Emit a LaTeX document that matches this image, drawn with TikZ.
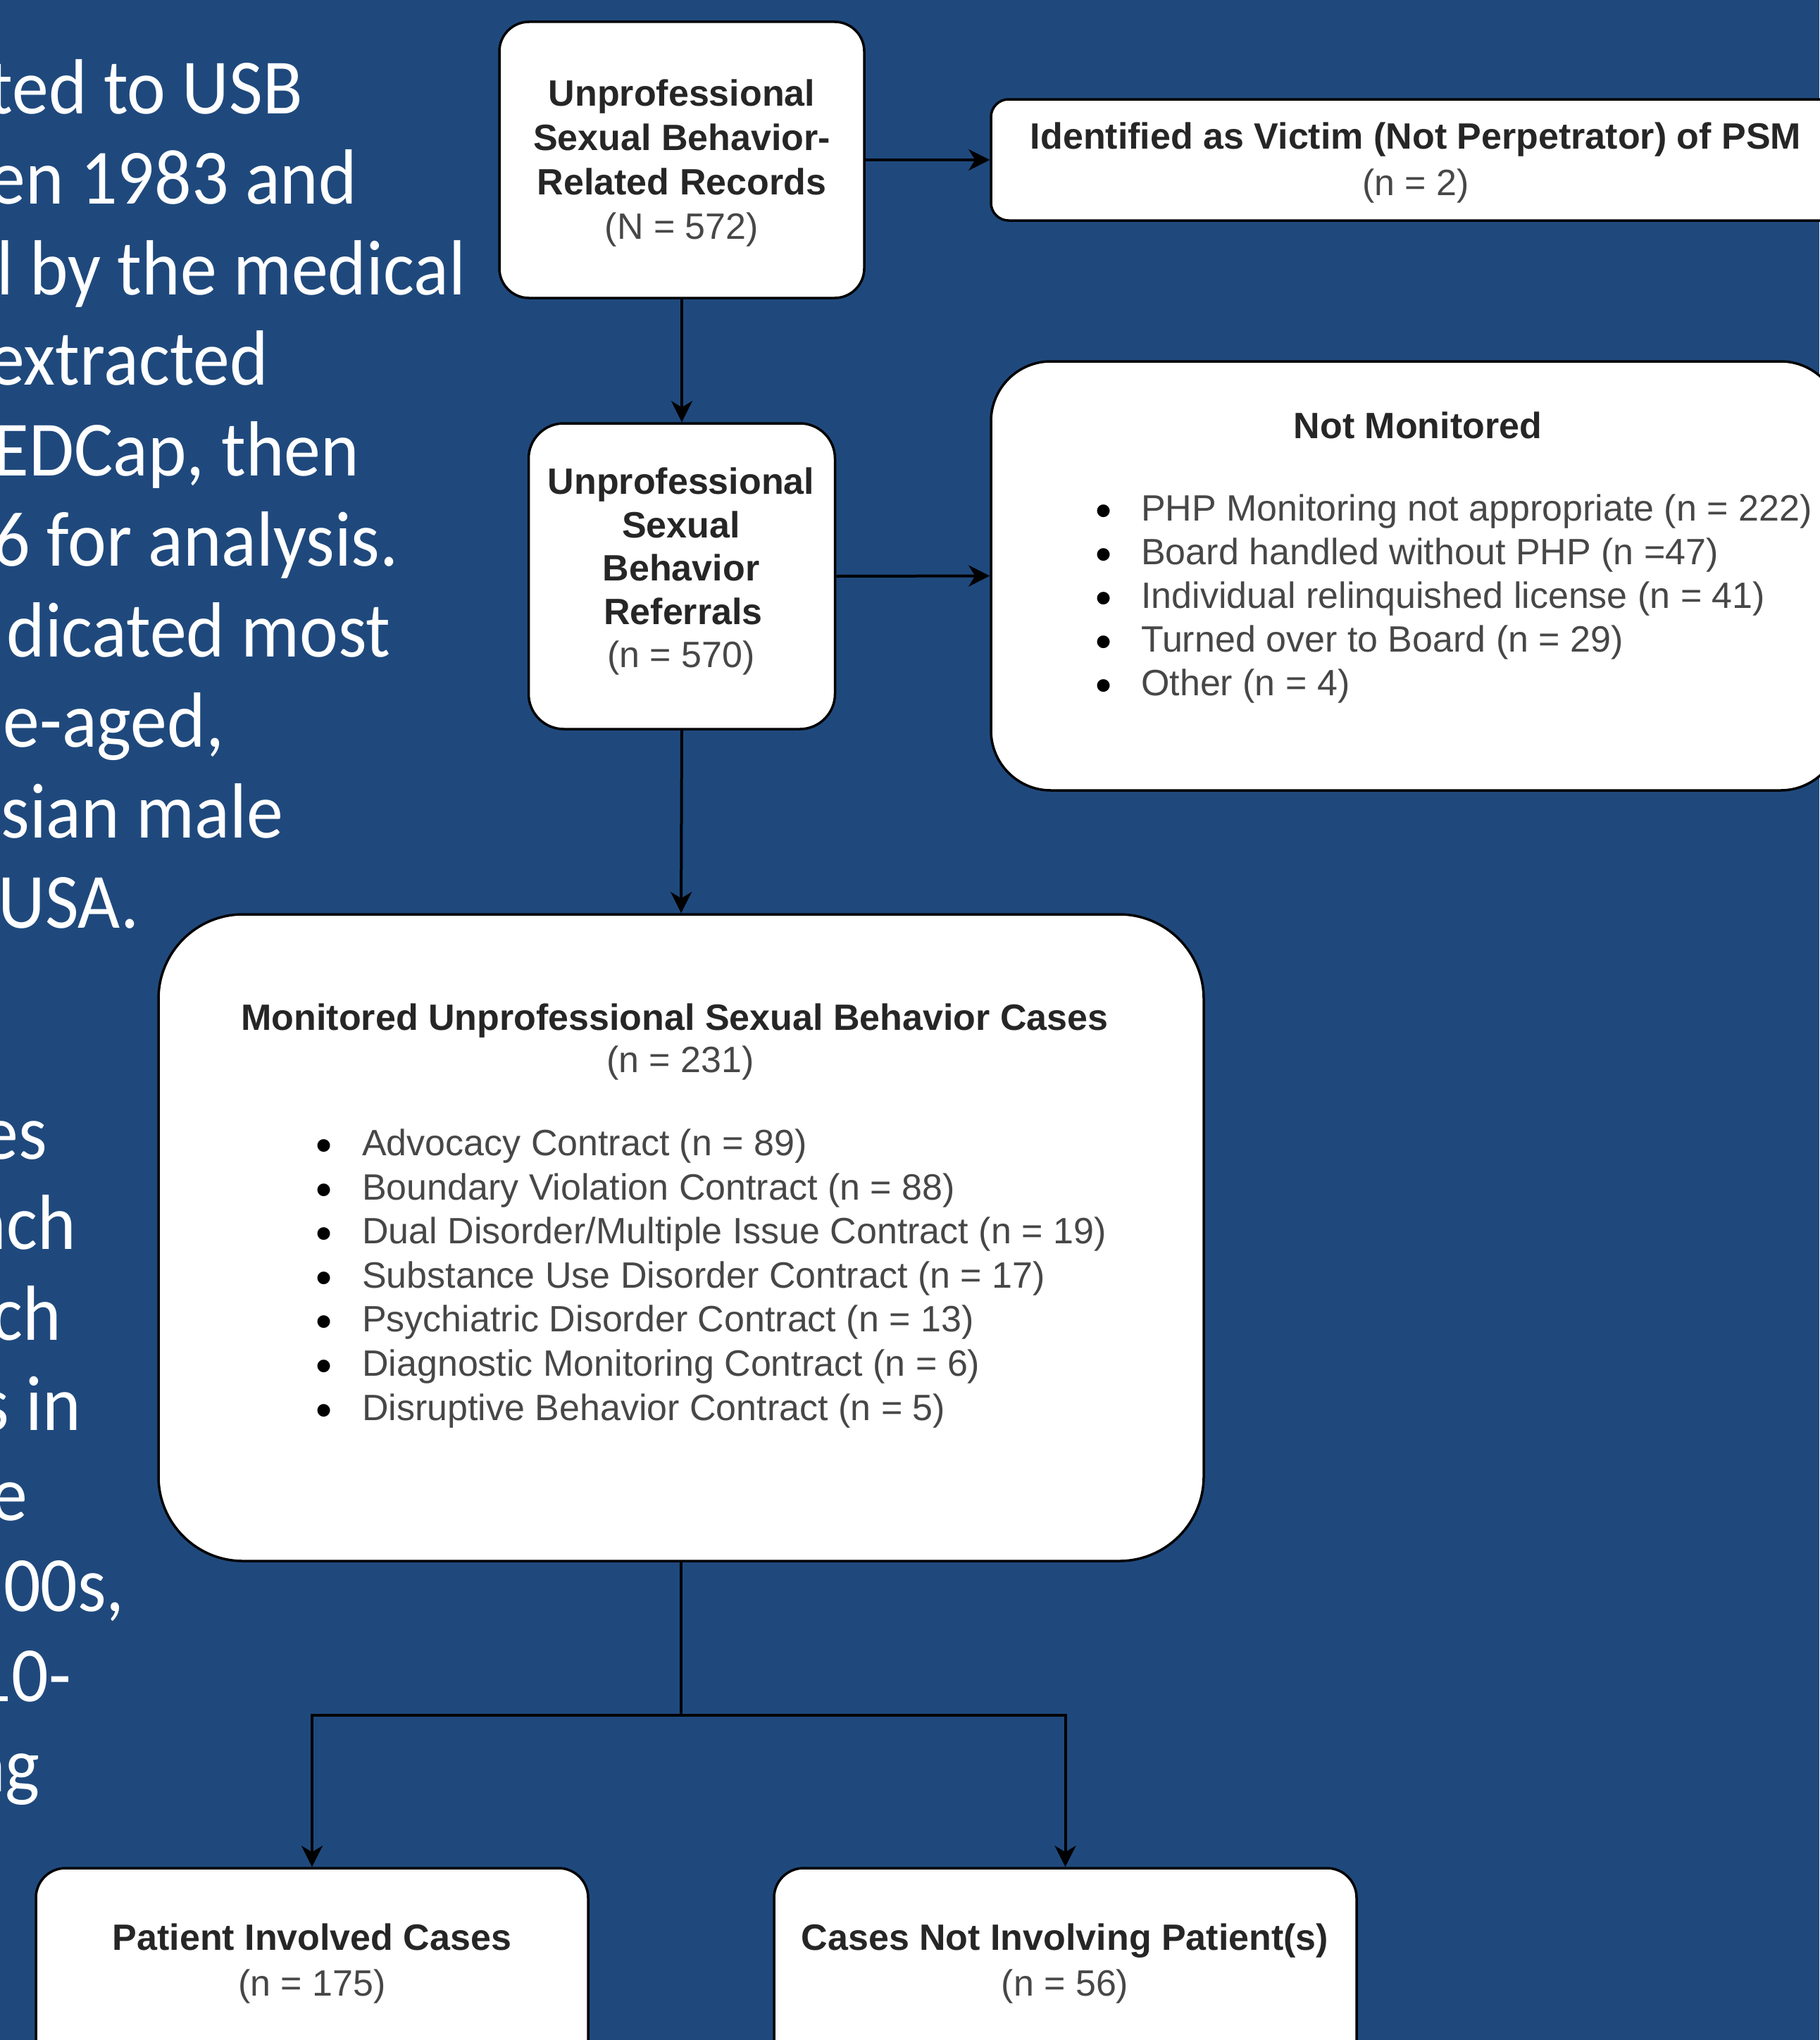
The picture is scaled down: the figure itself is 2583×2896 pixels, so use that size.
\documentclass[tikz,border=0pt]{standalone}
\usepackage{graphicx}
\usepackage{fontspec}
\setmainfont{Liberation Sans}
\newfontfamily\carl{Carlito}
\usetikzlibrary{arrows.meta}
\definecolor{bgblue}{HTML}{1F497D}
\definecolor{titlegray}{HTML}{262626}
\definecolor{bodygray}{HTML}{474747}
\newcommand{\sqz}[1]{\scalebox{0.935}[1]{#1}}
\begin{document}
\begin{tikzpicture}[x=1pt,y=-1pt,
  box/.style={draw=black, line width=3.5pt, fill=white, inner sep=0pt},
  conn/.style={draw=black, line width=4pt},
  arr/.style={conn, -{Stealth[length=30pt,width=30pt,inset=9pt]}},
  titletxt/.style={anchor=base, inner sep=0pt, text=titlegray, font=\fontsize{52}{62}\selectfont\bfseries},
  bodytxt/.style={anchor=base, inner sep=0pt, text=bodygray, font=\fontsize{52}{62}\selectfont},
  itemtxt/.style={anchor=base west, inner sep=0pt, text=bodygray, font=\fontsize{52}{62}\selectfont},
  bultxt/.style={anchor=base west, inner sep=0pt, text=black, font=\fontsize{66}{66}\selectfont},
  lefttxt/.style={anchor=base east, inner sep=0pt, text=white, font=\carl\fontsize{111}{128}\selectfont}
]
\useasboundingbox (0,0) rectangle (2583,2896);
\fill[bgblue] (0,0) rectangle (2583,2896);

% left text (cut at the left edge)
\node[lefttxt] (l1) at (430,161) {\sqz{ted to USB}};
\node[lefttxt] (l2) at (507,289.5) {\sqz{en 1983 and}};
\node[lefttxt] (l3) at (661,418) {\sqz{l by the medical}};
\node[lefttxt] (l4) at (381,546) {\sqz{extracted}};
\node[lefttxt] (l5) at (510,675) {\sqz{EDCap, then}};
\node[lefttxt] (l6) at (566,803) {\sqz{6 for analysis.}};
\node[lefttxt] (l7) at (555,932) {\sqz{dicated most}};
\node[lefttxt] (l8) at (318,1060) {\sqz{e-aged,}};
\node[lefttxt] (l9) at (402,1189) {\sqz{sian male}};
\node[lefttxt] (l10) at (198,1317) {\sqz{USA.}};
\node[lefttxt] (r1) at (67,1645) {\sqz{es}};
\node[lefttxt] (r2) at (108,1773) {\sqz{nch}};
\node[lefttxt] (r3) at (87,1902) {\sqz{ch}};
\node[lefttxt] (r4) at (115,2030) {\sqz{s in}};
\node[lefttxt] (r5) at (39,2158) {\sqz{e}};
\node[lefttxt] (r6) at (177,2287) {\sqz{00s,}};
\node[lefttxt] (r7) at (101,2415) {\sqz{10-}};
\node[lefttxt] (r8) at (57,2543) {\sqz{ng}};

% boxes
\node[box, rounded corners=42pt, minimum width=518pt, minimum height=392pt] (rec) at (968,227) {};
\node[box, rounded corners=25pt, minimum width=1206pt, minimum height=172pt] (vic) at (2010,227) {};
\node[box, rounded corners=50pt, minimum width=435pt, minimum height=434pt] (ref) at (968,818) {};
\node[box, rounded corners=85pt, minimum width=1206pt, minimum height=609pt] (nmon) at (2010,817.5) {};
\node[box, rounded corners=120pt, minimum width=1484pt, minimum height=918pt] (mon) at (967,1757) {};
\node[box, rounded corners=42pt, minimum width=784pt, minimum height=400pt] (pat) at (443,2852) {};
\node[box, rounded corners=42pt, minimum width=827pt, minimum height=400pt] (npat) at (1512.5,2852) {};

% connectors
\draw[arr] (rec.east) -- (vic.west);
\draw[arr] (rec.south) -- (ref.north);
\draw[arr] (ref.east) -- (nmon.west);
\draw[arr] (ref.south) -- (mon.north);
\coordinate (split) at (967,2435);
\draw[conn] (mon.south) -- (split);
\draw[arr] (split) -| (pat.north);
\draw[arr] (split) -| (npat.north);

% box texts
\node[titletxt] (rec1) at (968,150) {Unprofessional};
\node[titletxt] (rec2) at (968,213) {Sexual Behavior-};
\node[titletxt] (rec3) at (968,276) {Related Records};
\node[bodytxt] (rec4) at (968,339) {(N = 572)};

\node[titletxt] (vic1) at (2010,211) {Identified as Victim (Not Perpetrator) of PSM};
\node[bodytxt] (vic2) at (2010,277) {(n = 2)};

\node[titletxt] (ref1) at (967,701) {Unprofessional};
\node[titletxt] (ref2) at (967,763) {Sexual};
\node[titletxt] (ref3) at (967,824) {Behavior};
\node[titletxt] (ref4) at (970,886) {Referrals};
\node[bodytxt] (ref5) at (967,947) {(n = 570)};

\node[titletxt] (nm0) at (2013,622) {Not Monitored};
\foreach \t [count=\i] in {{PHP Monitoring not appropriate (n = 222)},{Board handled without PHP (n =47)},{Individual relinquished license (n = 41)},{Turned over to Board (n = 29)},{Other (n = 4)}}{
  \node[bultxt] (nmb\i) at (1555,{747+62*(\i-1)}) {•};
  \node[itemtxt] (nm\i) at (1620,{739+62*(\i-1)}) {\t};
}

\node[titletxt] (mon0) at (958,1462) {Monitored Unprofessional Sexual Behavior Cases};
\node[bodytxt] (mon00) at (966,1522) {(n = 231)};
\foreach \t [count=\i] in {{Advocacy Contract (n = 89)},{Boundary Violation Contract (n = 88)},{Dual Disorder/Multiple Issue Contract (n = 19)},{Substance Use Disorder Contract (n = 17)},{Psychiatric Disorder Contract (n = 13)},{Diagnostic Monitoring Contract (n = 6)},{Disruptive Behavior Contract (n = 5)}}{
  \node[bultxt] (mb\i) at (448,{1648.5+62.6*(\i-1)}) {•};
  \node[itemtxt] (m\i) at (514,{1640.5+62.6*(\i-1)}) {\t};
}

\node[titletxt] (pat1) at (443,2768) {Patient Involved Cases};
\node[bodytxt] (pat2) at (443,2833) {(n = 175)};
\node[titletxt] (npat1) at (1512,2768) {Cases Not Involving Patient(s)};
\node[bodytxt] (npat2) at (1512,2833) {(n = 56)};
\end{tikzpicture}
\end{document}
